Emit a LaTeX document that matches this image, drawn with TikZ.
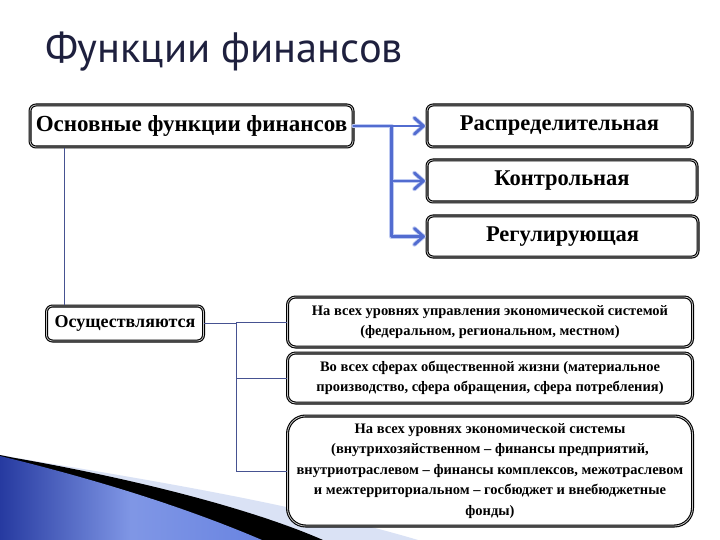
\documentclass[tikz,border=0pt]{standalone}
\usepackage{fontspec}
\setmainfont{Liberation Serif}
\newfontfamily\titlefont{PT Sans}
\usetikzlibrary{calc}
\definecolor{titlecol}{RGB}{30,32,62}
\definecolor{arrowblue}{RGB}{82,108,208}
\definecolor{glowblue}{RGB}{190,202,242}
\definecolor{linkcol}{RGB}{70,82,145}
\definecolor{palebg}{RGB}{218,226,245}
\definecolor{decoA}{RGB}{38,58,160}
\definecolor{decoB}{RGB}{105,132,225}
\tikzset{
  fbox/.style={draw=black, line width=1.1pt, double=gray!45, double distance=0.8pt,
    fill=white, rounded corners=6pt, inner sep=0pt, align=center},
  bigfont/.style={font=\bfseries\fontsize{22.5}{26}\selectfont},
  mainfont/.style={font=\bfseries\fontsize{23}{26}\selectfont},
  midfont/.style={font=\bfseries\fontsize{18}{20}\selectfont},
  smallfont/.style={font=\bfseries\fontsize{14.5}{20.5}\selectfont},
  glow/.style={glowblue, line width=4.4pt, line cap=round, line join=round},
  bline/.style={arrowblue, line width=2.8pt, line cap=round, line join=round},
  link/.style={linkcol, line width=0.8pt}
}
\begin{document}
\begin{tikzpicture}[x=1pt,y=-1pt]
\useasboundingbox (0,0) rectangle (720,540);
\fill[white] (0,0) rectangle (720,540);
% decoration bottom-left
\fill[palebg] (35,461) .. controls (150,480) and (300,505) .. (418,540) -- (0,540) -- (0,455) -- cycle;
\fill[black] (15,458) .. controls (130,478) and (250,508) .. (323,540) -- (0,540) -- (0,455) -- cycle;
\shade[left color=decoA, right color=decoB, middle color=decoB!85!white] (0,456) .. controls (90,478) and (180,505) .. (262,540) -- (0,540) -- cycle;
% title
\node[anchor=base west, inner sep=0pt, text=titlecol, font=\titlefont\fontsize{42.5}{46}\selectfont] (title) at (45,63) {Функции финансов};
% top boxes
\node[fbox, mainfont, minimum width=323pt, minimum height=42pt] (main) at (191.5,126) {Основные функции финансов};
\node[fbox, bigfont, minimum width=265pt, minimum height=42pt] (r1) at (559.5,126) {Распределительная};
\node[fbox, bigfont, minimum width=270pt, minimum height=42pt] (r2) at (562,181) {Контрольная};
\node[fbox, bigfont, minimum width=271pt, minimum height=41pt] (r3) at (562.5,236.5) {Регулирующая};
% lower boxes
\node[fbox, midfont, minimum width=157pt, minimum height=35pt] (osu) at (125,323.5) {Осуществляются};
\node[fbox, smallfont, rounded corners=8pt, minimum width=405pt, minimum height=50pt] (a) at (490,322) {На всех уровнях управления экономической системой\\(федеральном, региональном, местном)};
\node[fbox, smallfont, rounded corners=8pt, minimum width=405pt, minimum height=50pt] (b) at (490,378) {Во всех сферах общественной жизни (материальное\\производство, сфера обращения, сфера потребления)};
\node[fbox, smallfont, rounded corners=18pt, minimum width=405pt, minimum height=110pt] (c) at (490,471) {На всех уровнях экономической системы\\(внутрихозяйственном – финансы предприятий,\\внутриотраслевом – финансы комплексов, межотраслевом\\и межтерриториальном – госбюджет и внебюджетные\\фонды)};
% blue arrows
\path (main.east) ++(38,0) coordinate (j1);
\path ([xshift=-3pt]r1.west) coordinate (t1);
\path ([xshift=-3pt]r2.west) coordinate (t2);
\path ([xshift=-3pt]r3.west) coordinate (t3);
\foreach \t in {t1,t2,t3}{
  \draw[glow] (\t) ++(-9,-8) -- (\t) -- ++(-9,8);
}
\draw[glow] (main.east) -- (j1) -- (j1 |- t3) -- (t3);
\draw[glow] (j1 |- t2) -- (t2);
\draw[bline] (main.east) -- (j1) -- (j1 |- t3) -- (t3);
\draw[bline] (j1 |- t2) -- (t2);
\draw[bline] (j1) -- (t1);
\foreach \t in {t1,t2,t3}{
  \draw[bline] (\t) ++(-9,-8) -- (\t) -- ++(-9,8);
}
% thin links
\path (main.south west) ++(35,0) coordinate (m1);
\draw[link] (m1) -- (m1 |- osu.north);
\path (osu.east) ++(32,0) coordinate (j2);
\draw[link] (osu.east) -- (j2) -- (j2 |- c.west) -- (c.west);
\draw[link] (j2 |- a.west) -- (a.west);
\draw[link] (j2 |- b.west) -- (b.west);
\end{tikzpicture}
\end{document}
